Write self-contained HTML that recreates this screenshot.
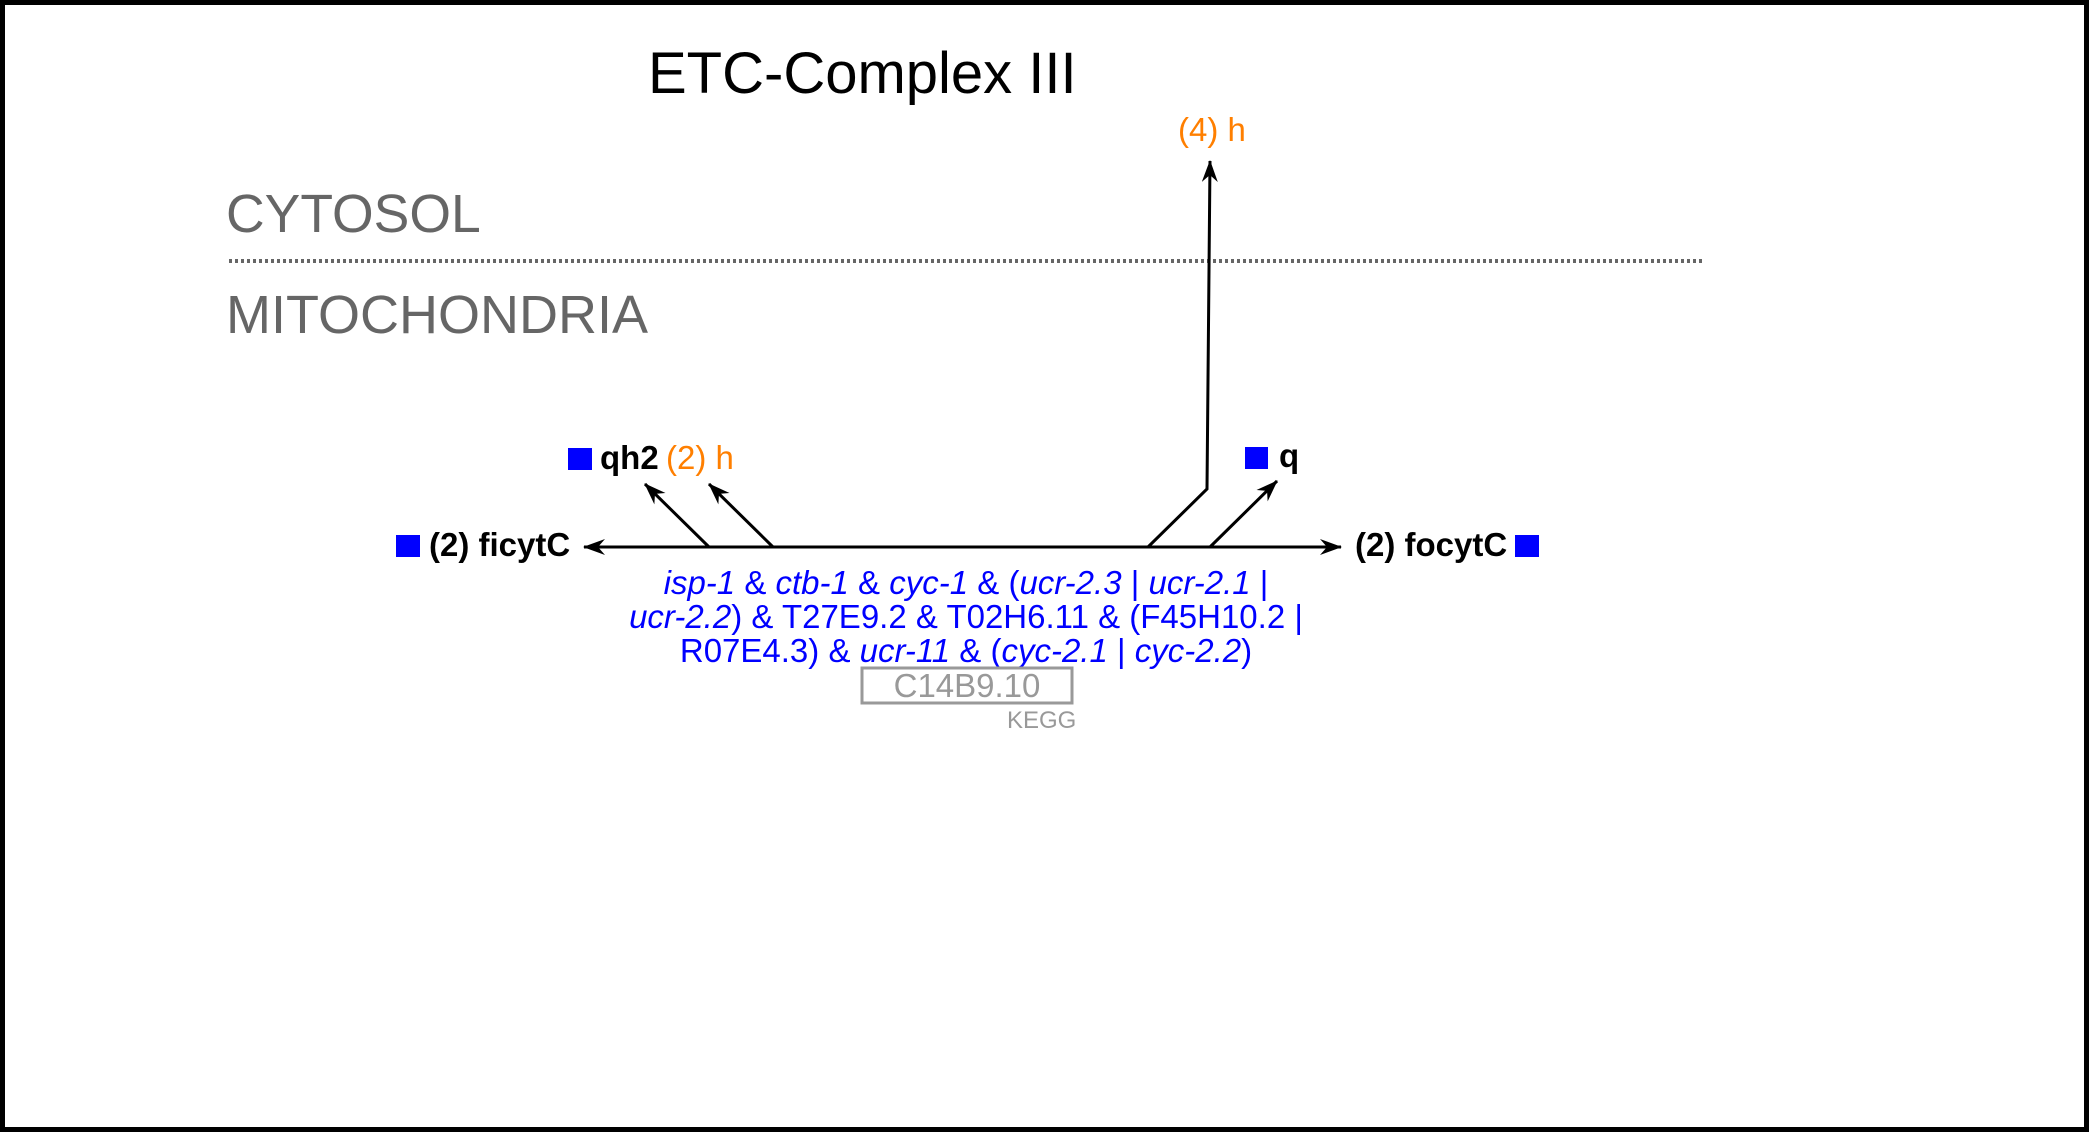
<!DOCTYPE html>
<html><head><meta charset="utf-8"><style>
html,body{margin:0;padding:0;background:#fff}
svg{display:block}
text{font-family:"Liberation Sans",Arial,sans-serif}
</style></head><body>
<svg width="2089" height="1132" viewBox="0 0 2089 1132" xmlns="http://www.w3.org/2000/svg">
<defs>
<marker id="a" markerWidth="22" markerHeight="16" refX="21" refY="8" orient="auto" markerUnits="userSpaceOnUse">
<path d="M0,0 L22,8 L0,16 L7,8 Z" fill="#000"/>
</marker>
</defs>
<rect x="2.5" y="2.5" width="2084" height="1127" fill="#fff" stroke="#000" stroke-width="5"/>
<text x="648" y="93" font-size="58" fill="#000">ETC-Complex III</text>
<text x="1178" y="141" font-size="33" fill="#ff7f00">(4) h</text>
<text x="226" y="232" font-size="53.5" fill="#666">CYTOSOL</text>
<line x1="229" y1="261" x2="1705" y2="261" stroke="#666" stroke-width="4" stroke-dasharray="3,3"/>
<text x="226" y="333" font-size="54" fill="#666">MITOCHONDRIA</text>

<g stroke="#000" stroke-width="3" fill="none">
<line x1="1339" y1="547" x2="584" y2="547" marker-end="url(#a)"/>
<line x1="709" y1="547" x2="1341" y2="547" marker-end="url(#a)"/>
<line x1="709" y1="547" x2="645" y2="484" marker-end="url(#a)"/>
<line x1="773" y1="547" x2="709" y2="484" marker-end="url(#a)"/>
<polyline points="1148,547 1207,489 1210,161" marker-end="url(#a)"/>
<line x1="1210" y1="547" x2="1277" y2="481" marker-end="url(#a)"/>
</g>

<rect x="568" y="448" width="24" height="22" fill="#0000ff"/>
<text x="600" y="469" font-size="33" font-weight="bold">qh2</text>
<text x="666" y="469" font-size="33" fill="#ff7f00">(2) h</text>
<rect x="1245" y="447" width="23" height="22" fill="#0000ff"/>
<text x="1279" y="467" font-size="33" font-weight="bold">q</text>
<rect x="396" y="535" width="24" height="22" fill="#0000ff"/>
<text x="429" y="556" font-size="33" font-weight="bold">(2) ficytC</text>
<text x="1355" y="556" font-size="33" font-weight="bold">(2) focytC</text>
<rect x="1515" y="535" width="24" height="22" fill="#0000ff"/>

<g font-size="33" fill="#0000ff" text-anchor="middle">
<text x="966" y="594"><tspan font-style="italic">isp-1</tspan> &amp; <tspan font-style="italic">ctb-1</tspan> &amp; <tspan font-style="italic">cyc-1</tspan> &amp; (<tspan font-style="italic">ucr-2.3</tspan> | <tspan font-style="italic">ucr-2.1</tspan> |</text>
<text x="966" y="628"><tspan font-style="italic">ucr-2.2</tspan>) &amp; T27E9.2 &amp; T02H6.11 &amp; (F45H10.2 |</text>
<text x="966" y="662">R07E4.3) &amp; <tspan font-style="italic">ucr-11</tspan> &amp; (<tspan font-style="italic">cyc-2.1</tspan> | <tspan font-style="italic">cyc-2.2</tspan>)</text>
</g>
<rect x="862" y="668" width="210" height="35" fill="none" stroke="#999" stroke-width="3"/>
<text x="967" y="697" font-size="33" fill="#999" text-anchor="middle">C14B9.10</text>
<text x="1007" y="728" font-size="24" fill="#999">KEGG</text>
</svg>
</body></html>
